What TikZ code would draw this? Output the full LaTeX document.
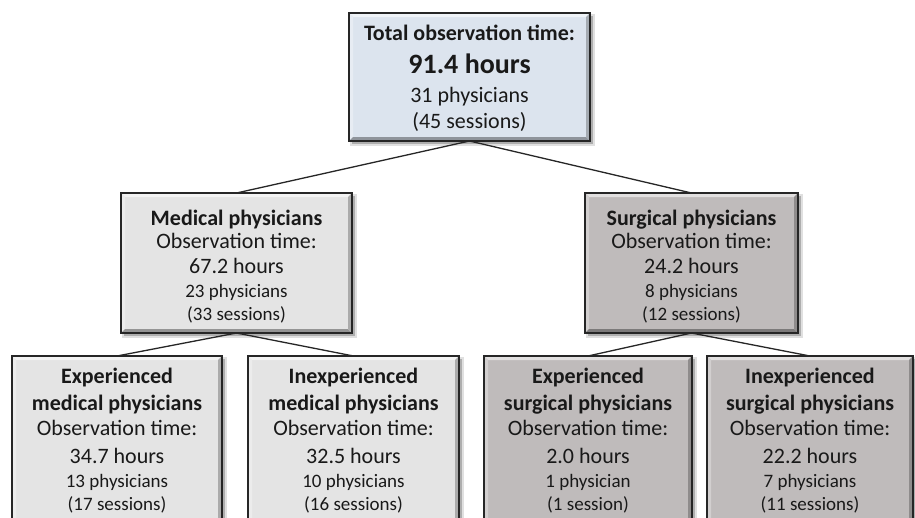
\documentclass[tikz,border=0pt]{standalone}
\usepackage{fontspec}
\setmainfont{Carlito}
\definecolor{topblue}{HTML}{DCE4EE}
\definecolor{medgray}{HTML}{E4E4E4}
\definecolor{surggray}{HTML}{BFBBBB}
\newcommand\bevelbox[6]{%
  \node[boxnode, minimum width={(#4-#2)*1pt}, minimum height={(#5-#3)*1pt}] (#1) at ({(#2+#4)/2},{(#3+#5)/2}) {};
  \fill[black, opacity=0.22] ([xshift=3pt,yshift=-3pt]#1.north west) rectangle ([xshift=3pt,yshift=-3pt]#1.south east);
  \fill[black, opacity=0.12] ([xshift=1pt,yshift=-1pt]#1.north west) rectangle ([xshift=5pt,yshift=-5pt]#1.south east);
  \fill[#6] (#1.north west) rectangle (#1.south east);
  \fill[#6!45!white] (#1.north west) -- (#1.north east) -- ([xshift=-4pt,yshift=-4pt]#1.north east) -- ([xshift=4pt,yshift=-4pt]#1.north west) -- cycle;
  \fill[#6!70!white] (#1.north west) -- (#1.south west) -- ([xshift=4pt,yshift=4pt]#1.south west) -- ([xshift=4pt,yshift=-4pt]#1.north west) -- cycle;
  \fill[#6!65!black] (#1.south west) -- (#1.south east) -- ([xshift=-4pt,yshift=4pt]#1.south east) -- ([xshift=4pt,yshift=4pt]#1.south west) -- cycle;
  \fill[#6!75!black] (#1.north east) -- (#1.south east) -- ([xshift=-4pt,yshift=4pt]#1.south east) -- ([xshift=-4pt,yshift=-4pt]#1.north east) -- cycle;
  \draw[line width=1.2pt, black!85] (#1.north west) rectangle (#1.south east);
}
\begin{document}
\begin{tikzpicture}[x=1pt, y=-1pt,
  boxnode/.style={inner sep=0pt, outer sep=0pt, draw=none, rectangle},
  txt/.style={anchor=base, inner sep=0pt, text=black!90},
  bA/.style={txt, font=\bfseries\fontsize{22}{26}\selectfont},
  bB/.style={txt, font=\bfseries\fontsize{28}{32}\selectfont},
  rA/.style={txt, font=\fontsize{22}{26}\selectfont},
  rB/.style={txt, font=\fontsize{19}{22}\selectfont},
  conn/.style={line width=1.3pt, black!85}]
\useasboundingbox (0,0) rectangle (915,517);
\clip (0,0) rectangle (915,517);
\fill[white] (0,0) rectangle (915,517);

% boxes
\bevelbox{top}{349}{13}{590}{141}{topblue}
\bevelbox{med}{121}{193}{352}{333}{medgray}
\bevelbox{surg}{585}{193}{798}{333}{surggray}
\bevelbox{expmed}{12}{356}{222}{545}{medgray}
\bevelbox{inmed}{248}{356}{459}{545}{medgray}
\bevelbox{expsurg}{484}{356}{692}{545}{surggray}
\bevelbox{insurg}{707}{356}{913}{545}{surggray}

% connectors
\draw[conn] (top.south) -- (med.north);
\draw[conn] (top.south) -- (surg.north);
\draw[conn] (med.south) -- (expmed.north);
\draw[conn] (med.south) -- (inmed.north);
\draw[conn] (surg.south) -- (expsurg.north);
\draw[conn] (surg.south) -- (insurg.north);

% top text
\node[bA] (t1) at (469.5,40) {Total observation time:};
\node[bB] (t2) at (469.5,73) {91.4 hours};
\node[rA] (t3) at (469.5,102) {31 physicians};
\node[rA] (t4) at (469.5,128) {(45 sessions)};

% medical
\node[bA] (m1) at (236.5,225) {Medical physicians};
\node[rA] (m2) at (236.5,248) {Observation time:};
\node[rA] (m3) at (236.5,273) {67.2 hours};
\node[rB] (m4) at (236.5,297) {23 physicians};
\node[rB] (m5) at (236.5,320) {(33 sessions)};

% surgical
\node[bA] (s1) at (691.5,225) {Surgical physicians};
\node[rA] (s2) at (691.5,248) {Observation time:};
\node[rA] (s3) at (691.5,273) {24.2 hours};
\node[rB] (s4) at (691.5,297) {8 physicians};
\node[rB] (s5) at (691.5,320) {(12 sessions)};

% experienced medical
\node[bA] (a1) at (117,383) {Experienced};
\node[bA] (a2) at (117,410) {medical physicians};
\node[rA] (a3) at (117,435) {Observation time:};
\node[rA] (a4) at (117,463) {34.7 hours};
\node[rB] (a5) at (117,487) {13 physicians};
\node[rB] (a6) at (117,510) {(17 sessions)};

% inexperienced medical
\node[bA] (b1) at (353.5,383) {Inexperienced};
\node[bA] (b2) at (353.5,410) {medical physicians};
\node[rA] (b3) at (353.5,435) {Observation time:};
\node[rA] (b4) at (353.5,463) {32.5 hours};
\node[rB] (b5) at (353.5,487) {10 physicians};
\node[rB] (b6) at (353.5,510) {(16 sessions)};

% experienced surgical
\node[bA] (c1t) at (588,383) {Experienced};
\node[bA] (c2t) at (588,410) {surgical physicians};
\node[rA] (c3t) at (588,435) {Observation time:};
\node[rA] (c4t) at (588,463) {2.0 hours};
\node[rB] (c5t) at (588,487) {1 physician};
\node[rB] (c6t) at (588,510) {(1 session)};

% inexperienced surgical
\node[bA] (d1) at (810,383) {Inexperienced};
\node[bA] (d2) at (810,410) {surgical physicians};
\node[rA] (d3) at (810,435) {Observation time:};
\node[rA] (d4) at (810,463) {22.2 hours};
\node[rB] (d5) at (810,487) {7 physicians};
\node[rB] (d6) at (810,510) {(11 sessions)};
\end{tikzpicture}
\end{document}
